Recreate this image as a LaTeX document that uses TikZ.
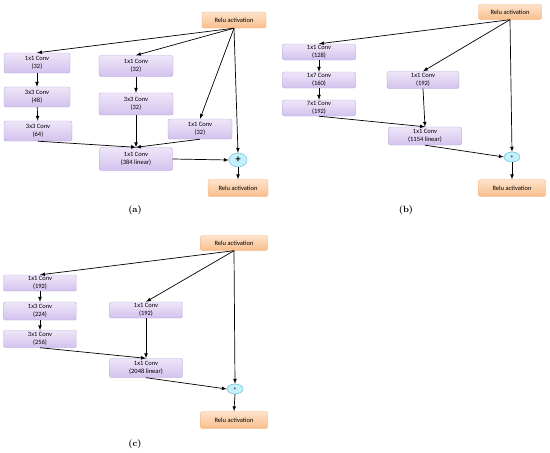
\documentclass[tikz,border=0pt]{standalone}
\usepackage{fontspec}
\usetikzlibrary{shapes.geometric}
\newfontfamily\boxfont{Carlito}
\definecolor{convtop}{HTML}{EEE6F8}
\definecolor{convbot}{HTML}{D3C2EE}
\definecolor{convline}{HTML}{B7A2DC}
\definecolor{relutop}{HTML}{FDE3CB}
\definecolor{relubot}{HTML}{F9BE8C}
\definecolor{reluline}{HTML}{F3AE76}
\definecolor{addfill}{HTML}{C4F0FC}
\definecolor{addline}{HTML}{5AB8D0}
\begin{document}
\begin{tikzpicture}[x=1pt, y=-1pt, >=latex,
    conv/.style={draw=convline, rounded corners=2pt, top color=convtop, bottom color=convbot,
        font=\boxfont\fontsize{6.5}{7.5}\selectfont, align=center, inner sep=0pt,
        minimum width=73pt, minimum height=17pt},
    relu/.style={draw=reluline, rounded corners=2pt, top color=relutop, bottom color=relubot,
        font=\boxfont\fontsize{6.5}{7.5}\selectfont, inner sep=0pt,
        minimum width=64pt, minimum height=16pt},
    addop/.style={draw=addline, ellipse, fill=addfill, inner sep=0pt,
        minimum width=16pt, minimum height=10pt, font=\boxfont\fontsize{5.5}{5.5}\selectfont},
    link/.style={->, line width=0.7pt},
    caption/.style={font=\bfseries\fontsize{9}{10}\selectfont}]
    \useasboundingbox (0,0) rectangle (550,453);

    % Block A (top left)
    \begin{scope}
        \node[relu] (aReluIn) at (234,20) {Relu activation};
        \node[conv, minimum width=66pt, minimum height=20pt] (aA1) at (37,63) {1x1 Conv\\(32)};
        \node[conv, minimum width=66pt, minimum height=20pt] (aA2) at (37,97) {3x3 Conv\\(48)};
        \node[conv, minimum width=68pt, minimum height=20pt] (aA3) at (38,131) {3x3 Conv\\(64)};
        \node[conv, minimum width=74pt, minimum height=21pt] (aB1) at (136,66) {1x1 Conv\\(32)};
        \node[conv, minimum width=74pt, minimum height=22pt] (aB2) at (136,104) {3x3 Conv\\(32)};
        \node[conv, minimum width=64pt, minimum height=20pt] (aC) at (200,129) {1x1 Conv\\(32)};
        \node[conv, minimum height=23pt] (aD) at (136,159) {1x1 Conv\\(384 linear)};
        \node[addop, minimum width=18pt, minimum height=14pt, font=\boxfont\bfseries\fontsize{10}{10}\selectfont] (aPlus) at (238,160) {+};
        \node[relu, minimum width=60pt, minimum height=17pt] (aReluOut) at (238,188) {Relu activation};
        \node[caption] (aCap) at (135,210) {(a)};
        \foreach \t in {aA1,aB1,aC,aPlus}
            \draw[link] (aReluIn.south) -- (\t.north);
        \draw[link] (aA1) -- (aA2);
        \draw[link] (aA2) -- (aA3);
        \draw[link] (aB1) -- (aB2);
        \draw[link] (aA3.south) -- (aD.north);
        \draw[link] (aB2.south) -- (aD.north);
        \draw[link] (aC.south) -- (aD.north);
        \draw[link] (aD.east) -- (aPlus.west);
        \draw[link] (aPlus.south) -- (aReluOut.north);
    \end{scope}

    % Block B (top right)
    \begin{scope}[shift={(270,0)}]
        \node[relu, minimum width=63pt, minimum height=15pt] (bReluIn) at (240,12) {Relu activation};
        \node[conv, minimum height=16pt] (bA1) at (49,52) {1x1 Conv\\(128)};
        \node[conv, minimum height=16pt] (bA2) at (49,80) {1x7 Conv\\(160)};
        \node[conv, minimum height=16pt] (bA3) at (49,108) {7x1 Conv\\(192)};
        \node[conv, minimum width=72pt] (bB) at (153,80) {1x1 Conv\\(192)};
        \node[conv, minimum height=18pt] (bD) at (155,136) {1x1 Conv\\(1154 linear)};
        \node[addop] (bPlus) at (242,157) {+};
        \node[relu, minimum width=67pt, minimum height=17pt] (bReluOut) at (242,188) {Relu activation};
        \node[caption] (bCap) at (136,210) {(b)};
        \foreach \t in {bA1,bB,bPlus}
            \draw[link] (bReluIn.south) -- (\t.north);
        \draw[link] (bA1) -- (bA2);
        \draw[link] (bA2) -- (bA3);
        \draw[link] (bA3.south) -- (bD.north);
        \draw[link] (bB.south) -- (bD.north);
        \draw[link] (bD.south) -- (bPlus.west);
        \draw[link] (bPlus.south) -- (bReluOut.north);
    \end{scope}

    % Block C (bottom left)
    \begin{scope}[shift={(0,225)}]
        \node[relu, minimum width=67pt, minimum height=15pt] (cReluIn) at (234,18) {Relu activation};
        \node[conv, minimum height=16pt] (cA1) at (40,58) {1x1 Conv\\(192)};
        \node[conv, minimum height=18pt] (cA2) at (40,86) {1x3 Conv\\(224)};
        \node[conv] (cA3) at (40,114) {3x1 Conv\\(256)};
        \node[conv, minimum height=16pt] (cB) at (146,85) {1x1 Conv\\(192)};
        \node[conv, minimum height=19pt] (cD) at (146,143) {1x1 Conv\\(2048 linear)};
        \node[addop] (cPlus) at (235,164) {+};
        \node[relu, minimum width=67pt, minimum height=17pt] (cReluOut) at (234,195) {Relu activation};
        \node[caption] (cCap) at (135,219) {(c)};
        \foreach \t in {cA1,cB,cPlus}
            \draw[link] (cReluIn.south) -- (\t.north);
        \draw[link] (cA1) -- (cA2);
        \draw[link] (cA2) -- (cA3);
        \draw[link] (cA3.south) -- (cD.north);
        \draw[link] (cB.south) -- (cD.north);
        \draw[link] (cD.south) -- (cPlus.west);
        \draw[link] (cPlus.south) -- (cReluOut.north);
    \end{scope}
\end{tikzpicture}
\end{document}
